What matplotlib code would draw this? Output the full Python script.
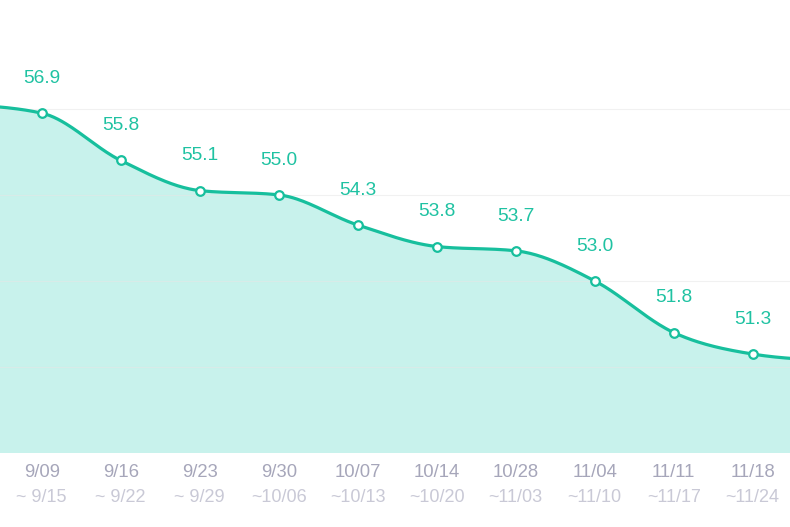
import numpy as np
import matplotlib
matplotlib.use("Agg")
import matplotlib.pyplot as plt

# ---- data ----
week_start = ["9/09", "9/16", "9/23", "9/30", "10/07", "10/14", "10/28", "11/04", "11/11", "11/18"]
week_end = ["~ 9/15", "~ 9/22", "~ 9/29", "~10/06", "~10/13", "~10/20", "~11/03", "~11/10", "~11/17", "~11/24"]
values = [56.9, 55.8, 55.1, 55.0, 54.3, 53.8, 53.7, 53.0, 51.8, 51.3]
prev_value = 57.1   # point just left of the visible range
next_value = 51.15  # point just right of the visible range

LINE = "#17bf9d"
FILL = "#c8f2ec"
LABEL = "#1fc2a2"
TICK1 = "#a6a6ba"
TICK2 = "#c9c9d6"


def monotone_x(x, y, n=40):
    x = np.asarray(x, float)
    y = np.asarray(y, float)
    h = np.diff(x)
    s = np.diff(y) / h
    t = np.zeros_like(y)
    for i in range(1, len(y) - 1):
        s0, s1 = s[i - 1], s[i]
        p = (s0 * h[i] + s1 * h[i - 1]) / (h[i - 1] + h[i])
        t[i] = (np.sign(s0) + np.sign(s1)) * min(abs(s0), abs(s1), 0.5 * abs(p))
    t[0] = (3 * s[0] - t[1]) / 2
    t[-1] = (3 * s[-1] - t[-2]) / 2
    xs, ys = [], []
    for i in range(len(h)):
        u = np.linspace(0, 1, n)
        h00 = 2 * u**3 - 3 * u**2 + 1
        h10 = u**3 - 2 * u**2 + u
        h01 = -2 * u**3 + 3 * u**2
        h11 = u**3 - u**2
        xs.append(x[i] + u * h[i])
        ys.append(h00 * y[i] + h10 * h[i] * t[i] + h01 * y[i + 1] + h11 * h[i] * t[i + 1])
    return np.concatenate(xs), np.concatenate(ys)


fig = plt.figure(figsize=(7.9, 5.27), dpi=100)
ax = fig.add_axes([0, 74 / 527, 1, 453 / 527])

n = len(values)
idx = np.arange(n)
all_x = np.arange(-1, n + 1)
all_y = [prev_value] + values + [next_value]
cx, cy = monotone_x(all_x, all_y)

ymin = 49
ax.set_xlim(-0.528, 9.472)
ax.set_ylim(ymin, 59.53)

ax.fill_between(cx, cy, ymin, color=FILL, lw=0, zorder=1)
for g in [51, 53, 55, 57]:
    ax.axhline(g, color="#e6e6e6", lw=0.8, alpha=0.55, zorder=2)
ax.plot(cx, cy, color=LINE, lw=2.3, zorder=3, solid_capstyle="round")
ax.plot(idx, values, "o", ms=6.2, mfc="white", mec=LINE, mew=1.6, zorder=4, ls="none")

font = "Liberation Sans"
for i, v in enumerate(values):
    ax.annotate(f"{v:.1f}", (i, v), xytext=(0, 25), textcoords="offset points",
                ha="center", va="center", color=LABEL, fontsize=13.8, family=font)

for sp in ax.spines.values():
    sp.set_visible(False)
ax.set_xticks([])
ax.set_yticks([])

for i in range(n):
    ax.annotate(week_start[i], (i, ymin), xytext=(0, -14), textcoords="offset points",
                ha="center", va="center", color=TICK1, fontsize=13.3, family=font,
                annotation_clip=False)
    ax.annotate(week_end[i], (i, ymin), xytext=(0, -32), textcoords="offset points",
                ha="center", va="center", color=TICK2, fontsize=13, family=font,
                annotation_clip=False)

fig.savefig("out.png", dpi=100)
